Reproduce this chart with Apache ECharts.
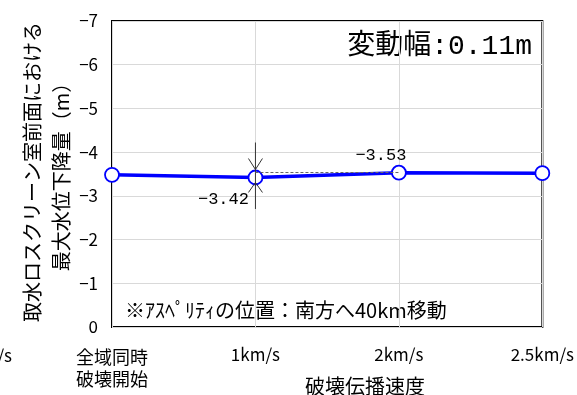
<!DOCTYPE html>
<html><head><meta charset="utf-8">
<script src="https://cdn.jsdelivr.net/npm/echarts@6/dist/echarts.min.js"></script>
<style>html,body{margin:0;padding:0;background:#fff}#c{width:577px;height:395px}</style>
</head><body><div id="c"></div>
<script>
const categories = ['全域同時\n破壊開始', '1km/s', '2km/s', '2.5km/s'];
const values = [-3.48, -3.42, -3.53, -3.52];
const yTicks = [0, -1, -2, -3, -4, -5, -6, -7];
const crossRange = [-4.22, -2.70];
const refLevel = -3.53;
const FONT = '"Noto Sans CJK JP", sans-serif';
const MONO = '"Liberation Mono", "Noto Sans CJK JP", monospace';
const fmt = v => (v < 0 ? '\u2212' + Math.abs(v) : String(v));

const chart = echarts.init(document.getElementById('c'), null, {renderer: 'canvas'});
chart.setOption({
  animation: false,
  backgroundColor: '#fff',
  textStyle: {fontFamily: FONT},
  grid: {left: 112, right: 33, top: 21, bottom: 68, show: true, borderColor: '#000', borderWidth: 2, backgroundColor: 'transparent'},
  xAxis: {
    type: 'category', data: categories, boundaryGap: false,
    axisLine: {show: false}, axisTick: {show: false},
    splitLine: {show: true, lineStyle: {color: '#d9d9d9', width: 1}},
    axisLabel: {
      fontFamily: FONT, fontSize: 17, color: '#000', margin: 19, interval: 0,
      formatter: v => v.indexOf('km') >= 0 ? v : v.split('\n').map(s => '{j|' + s + '}').join('\n'),
      rich: {j: {fontFamily: FONT, fontSize: 18, lineHeight: 22, color: '#000'}}
    }
  },
  yAxis: {
    type: 'value', min: -7, max: 0, interval: 1, inverse: true,
    axisLine: {show: false}, axisTick: {show: false},
    splitLine: {show: true, lineStyle: {color: '#d9d9d9', width: 1}},
    axisLabel: {fontFamily: FONT, fontSize: 17, color: '#000', margin: 14, formatter: v => fmt(v)}
  },
  series: [
    {
      type: 'line', data: values.map((v, i) => {
        const item = {value: v};
        if (i === 1) item.label = {show: true, position: 'inside', offset: [-32, 22]};
        if (i === 2) item.label = {show: true, position: 'inside', offset: [-18, -17]};
        return item;
      }),
      symbol: 'circle', symbolSize: 14,
      itemStyle: {color: '#fff', borderColor: '#0000ff', borderWidth: 1.8},
      lineStyle: {color: '#0000ff', width: 3.5},
      label: {show: false, fontFamily: MONO, fontSize: 17, color: '#000', formatter: p => fmt(p.value)},
      z: 3,
      markLine: {
        silent: true, symbol: 'none', label: {show: false},
        lineStyle: {color: '#666', type: [3, 2], width: 1},
        data: [[{coord: [categories[1], refLevel]}, {coord: [categories[2], refLevel]}]]
      }
    },
    {
      type: 'custom', z: 4, silent: true,
      data: [[1, values[1]]],
      renderItem: function (params, api) {
        const p = api.coord([api.value(0), api.value(1)]);
        const top = api.coord([api.value(0), crossRange[0]]);
        const bot = api.coord([api.value(0), crossRange[1]]);
        const st = {stroke: '#333', lineWidth: 1};
        return {type: 'group', children: [
          {type: 'line', shape: {x1: top[0], y1: top[1], x2: bot[0], y2: bot[1]}, style: st},
          {type: 'line', shape: {x1: p[0] - 7, y1: p[1] - 19, x2: p[0], y2: p[1] - 8}, style: st},
          {type: 'line', shape: {x1: p[0] + 7, y1: p[1] - 19, x2: p[0], y2: p[1] - 8}, style: st},
          {type: 'line', shape: {x1: p[0] - 7, y1: p[1] + 15, x2: p[0], y2: p[1] + 5}, style: st},
          {type: 'line', shape: {x1: p[0] + 7, y1: p[1] + 15, x2: p[0], y2: p[1] + 5}, style: st}
        ]};
      }
    }
  ],
  graphic: [
    {type: 'text', x: 32, y: 172, rotation: Math.PI / 2, style: {text: '取水ロスクリーン室前面における', font: '20px ' + FONT, fill: '#000', align: 'center', verticalAlign: 'middle'}},
    {type: 'text', x: 61, y: 172, rotation: Math.PI / 2, style: {text: '最大水位下降量（m）', font: '20px ' + FONT, fill: '#000', align: 'center', verticalAlign: 'middle'}},
    {type: 'text', x: 365, y: 386, style: {text: '破壊伝播速度', font: '20px ' + FONT, fill: '#000', align: 'center', verticalAlign: 'middle'}},
    {type: 'text', x: 532, y: 47, style: {text: '変動幅:0.11m', font: '28px ' + MONO, fill: '#000', align: 'right', verticalAlign: 'middle'}},
    {type: 'text', x: 125, y: 310, style: {text: '※ｱｽﾍﾟﾘﾃｨの位置：南方へ40km移動', font: '20px ' + FONT, fill: '#000', align: 'left', verticalAlign: 'middle'}},
    {type: 'text', x: 12, y: 356, style: {text: '2.5km/s', font: '17px ' + FONT, fill: '#000', align: 'right', verticalAlign: 'middle'}}
  ]
});
</script></body></html>
